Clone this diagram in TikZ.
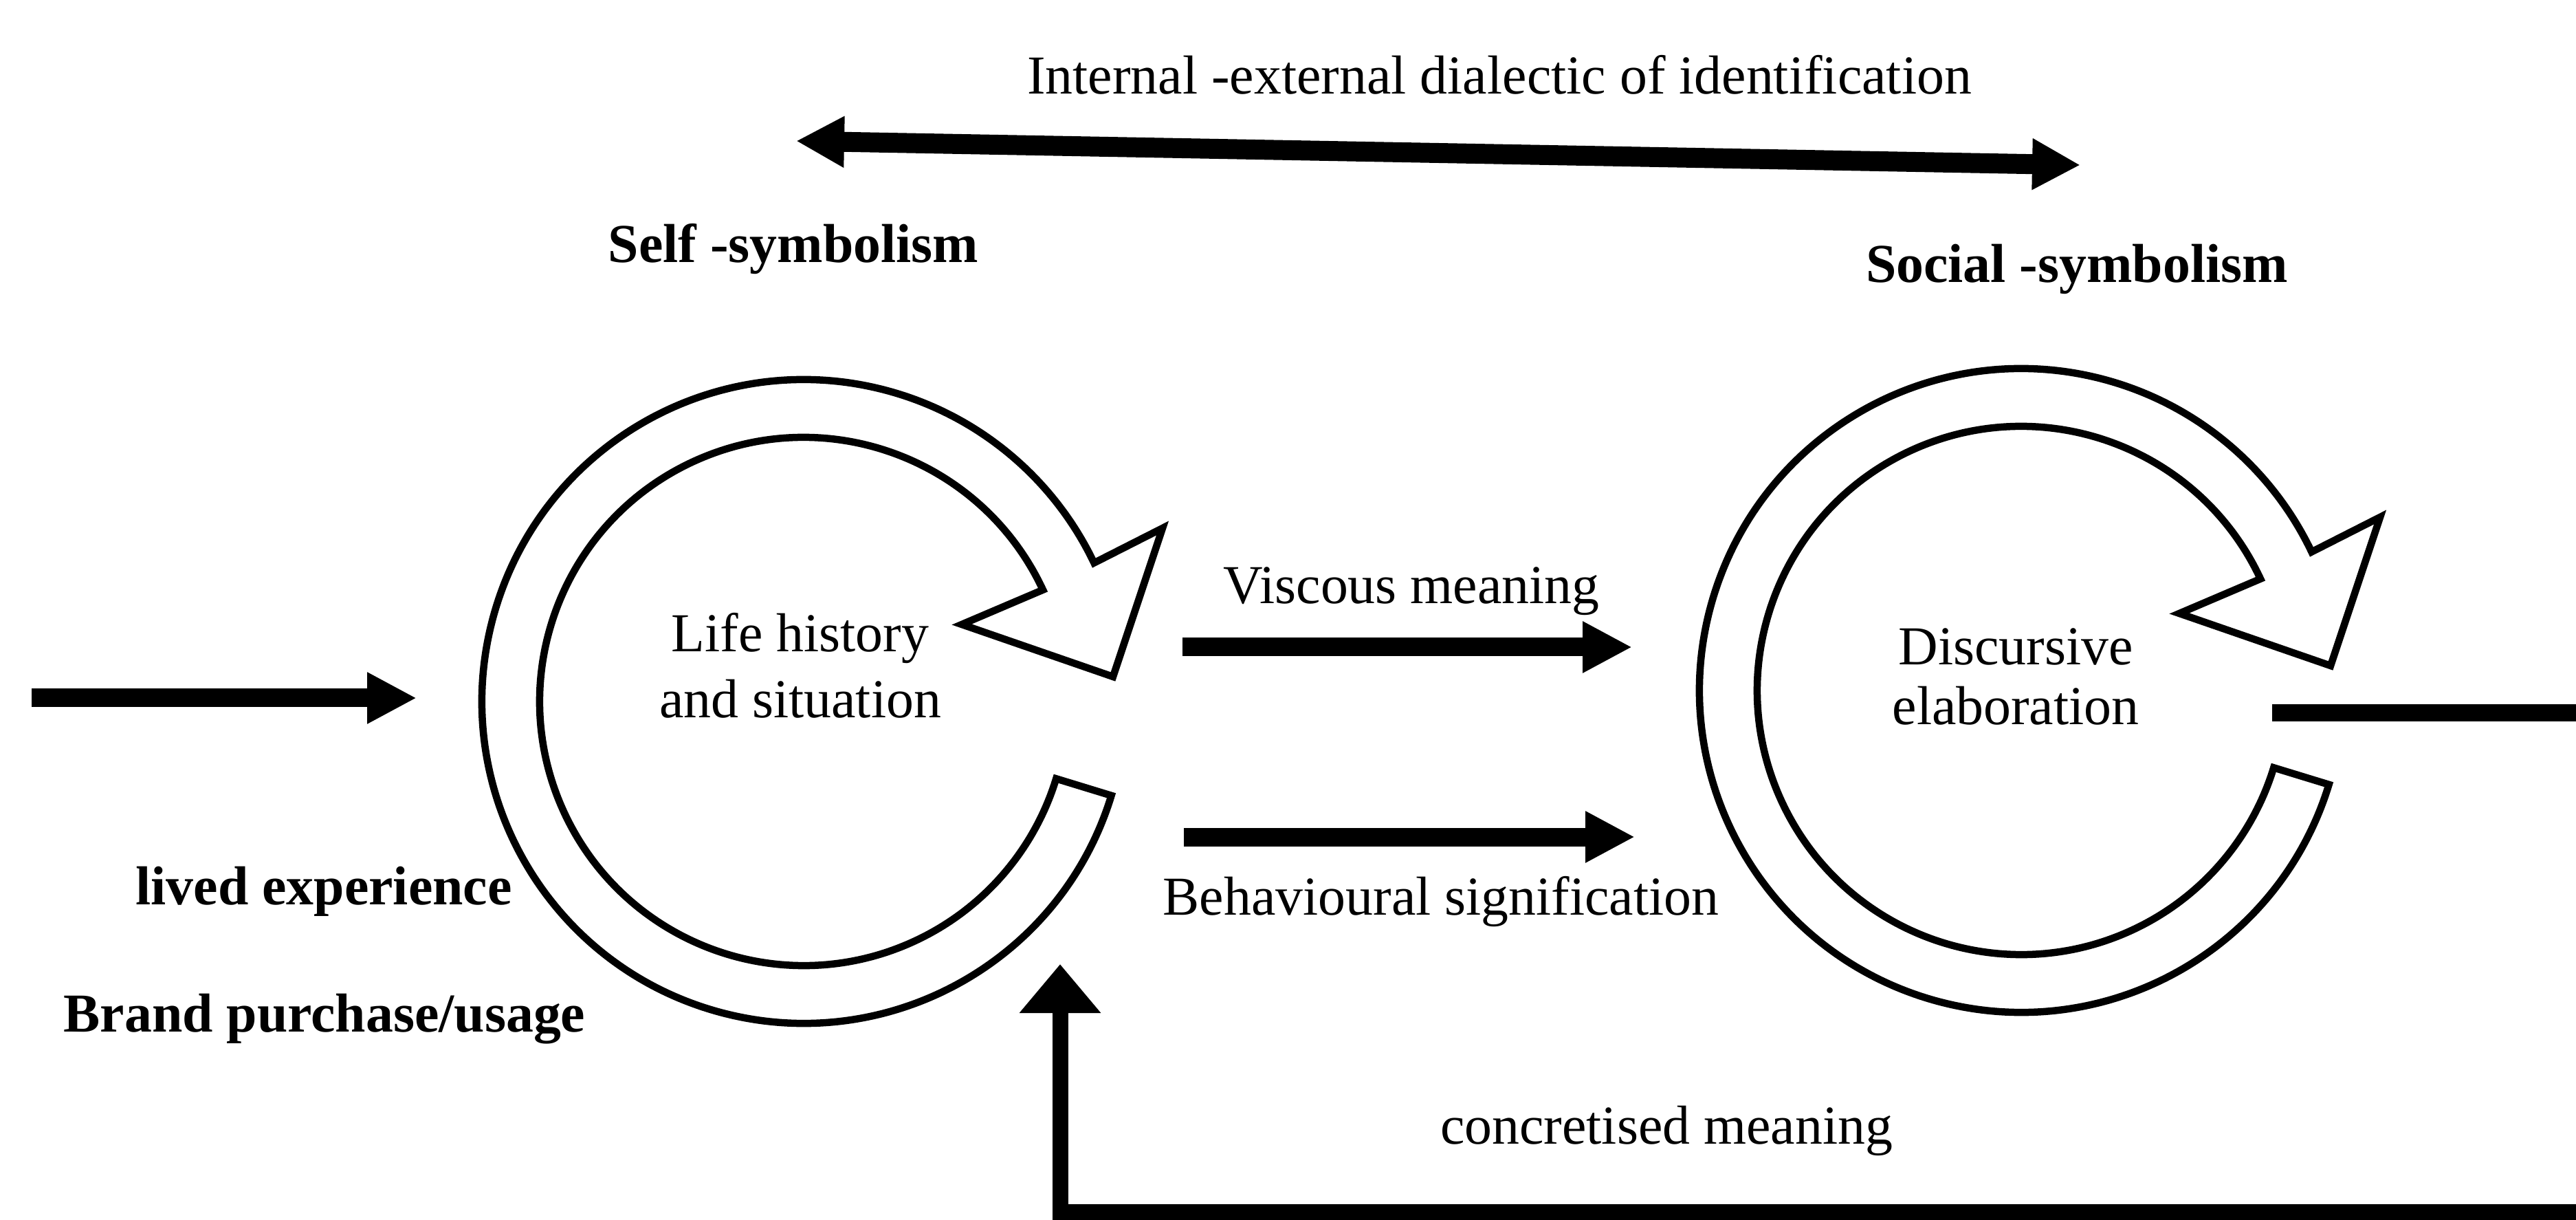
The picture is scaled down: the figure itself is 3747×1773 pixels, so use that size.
\documentclass[tikz,border=0pt]{standalone}
\usepackage{fontspec}
\setmainfont{Liberation Serif}
\usetikzlibrary{calc,arrows.meta}

\tikzset{
  lbl/.style={font=\fontsize{22.7}{27}\selectfont, inner sep=0pt, anchor=base},
  blbl/.style={lbl, font=\fontsize{22.7}{27}\selectfont\bfseries},
  ring/.style={draw=black, fill=white, line width=1.05mm, line join=miter},
  flow/.style={line width=2.7mm, -{Triangle[length=7.2mm, width=7mm]}},
  wideflow/.style={line width=2.9mm, {Triangle[length=7mm, width=7mm]}-{Triangle[length=7mm, width=7mm]}},
  bar/.style={line width=2.5mm},
  loopback/.style={line width=2.3mm, line join=miter, -{Triangle[length=7.1mm, width=11.4mm]}},
}

% a cyclic ring arrow drawn around centre #1
\newcommand\cyclering[1]{%
  \draw[ring] ($(#1)+(-17:468)$)
      arc[start angle=-17, end angle=-334.5, radius=468]
      -- ($(#1)+(522,252)$) -- ($(#1)+(450,36)$) -- ($(#1)+(230,112)$)
      -- ($(#1)+(25:384)$)
      arc[start angle=25, end angle=343, radius=384]
      -- cycle;}

\begin{document}
\begin{tikzpicture}[x=0.1mm, y=0.1mm]
\useasboundingbox[fill=white] (0,0) rectangle (3747,1773);

% the two cycles
\coordinate (Lc) at (1169,753);
\coordinate (Rc) at (2940,769);
\cyclering{Lc}
\cyclering{Rc}

% labels
\node[lbl] (title) at (2181,1636) {Internal -external dialectic of identification};
\node[blbl] (self) at (1154,1391) {Self -symbolism};
\node[blbl] (social) at (3021,1362) {Social -symbolism};
\node[lbl] (life1) at (1164,825) {Life history};
\node[lbl] (life2) at (1164,730) {and situation};
\node[lbl] (disc1) at (2932,807) {Discursive};
\node[lbl] (disc2) at (2932,720) {elaboration};
\node[lbl] (visc) at (2053,895) {Viscous meaning};
\node[lbl] (behav) at (2096,443) {Behavioural signification};
\node[blbl] (lived) at (471,458) {lived experience};
\node[blbl] (brand) at (472,273) {Brand purchase/usage};
\node[lbl] (concr) at (2424,110) {concretised meaning};

% connector end points
\coordinate (dl) at (1158,1568);
\coordinate (dr) at (3026,1533);
\coordinate (inA) at (46,758);
\coordinate (inB) at (606,758);
\coordinate (vA) at (1720,832);
\coordinate (vB) at (2374,832);
\coordinate (bA) at (1722,556);
\coordinate (bB) at (2378,556);
\coordinate (outA) at (3305,737);
\coordinate (outB) at (3747,737);
\coordinate (fbA) at (3747,11);
\coordinate (fbC) at (1542,11);
\coordinate (fbB) at (1542,371);

% connectors
\draw[wideflow] (dl) -- (dr);
\draw[flow] (inA) -- (inB);
\draw[flow] (vA) -- (vB);
\draw[flow] (bA) -- (bB);
\draw[bar] (outA) -- (outB);
\draw[loopback] (fbA) -- (fbC) -- (fbB);
\end{tikzpicture}
\end{document}
